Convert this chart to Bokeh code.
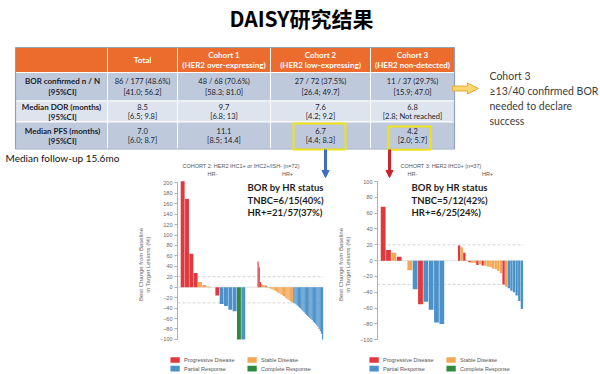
from bokeh.plotting import figure
from bokeh.models import Range1d, FixedTicker, ColumnDataSource, Arrow, NormalHead
from bokeh.layouts import column, row
from bokeh.core.properties import value
from bokeh.embed import file_html
from bokeh.resources import INLINE

# ---------------- data ----------------
slide_title = "DAISY研究结果"
table_header = ["", "Total", "Cohort 1\n(HER2 over-expressing)",
                "Cohort 2\n(HER2 low-expressing)", "Cohort 3\n(HER2 non-detected)"]
row_labels = ["BOR confirmed n / N\n[95%CI]", "Median DOR  (months)\n[95%CI]",
              "Median PFS (months)\n[95%CI]"]
bor_cells = ["86 / 177 (48.6%)\n[41.0; 56.2]", "48 / 68 (70.6%)\n[58.3; 81.0]",
             "27 / 72 (37.5%)\n[26.4; 49.7]", "11 / 37 (29.7%)\n[15.9; 47.0]"]
dor_cells = ["8.5\n[6.5; 9.8]", "9.7\n[6.8; 13]", "7.6\n[4.2; 9.2]", "6.8\n[2.8; Not reached]"]
pfs_cells = ["7.0\n[6.0; 8.7]", "11.1\n[8.5; 14.4]", "6.7\n[4.4; 8.3]", "4.2\n[2.0; 5.7]"]
note_text = "Cohort 3\n\u226513/40 confirmed BOR\nneeded to declare\nsuccess"
followup_text = "Median follow-up 15.6mo"

c2_title = "COHORT 2: HER2 IHC1+ or IHC2+/ISH- (n=72)"
c3_title = "COHORT 3: HER2 IHC0+ (n=37)"
group_labels = ["HR-", "HR+"]

c2_neg_change = [203, 169, 64, 27, 10, 4, 1.5, 0, -16, -32, -36, -43, -46, -100, -100]
c2_neg_resp = ["PD", "PD", "PD", "PD", "SD", "SD", "SD", "SD", "PD",
               "PR", "PR", "PR", "PR", "CR", "PR"]
c2_pos_change = [49, 38, 10, 6, 5, 4, 3, 3,
                 -0.5, -1, -2, -3, -4, -5, -6, -7, -8, -10, -11, -12, -14, -15, -17, -18,
                 -20, -22, -24, -25, -27, -29, -30,
                 -30, -31, -33, -35, -37, -39, -41, -43, -46, -48, -51, -53, -55, -57, -59,
                 -61, -63, -66, -68, -70, -73, -76, -80, -84, -89, -100]
c2_pos_resp = (["PD", "PD", "PD", "SD", "SD", "SD", "SD", "PD"] + ["SD"] * 23 + ["PR"] * 26)

c3_neg_change = [68, 13.5, 10, 5, 0, -12, -36, -55, -52, -62, -78, -80]
c3_neg_resp = ["PD", "PD", "SD", "PD", "SD", "SD", "PR", "PD", "PR", "PR", "PR", "PR"]
c3_pos_change = [19, 17, 10, -0.5, -2, -2.5, -3, -5.5, -4.5, -6, -6.5, -7.5, -8, -10, -11,
                 -13, -16, -30, -33, -35, -38, -40, -44, -51, -61]
c3_pos_resp = ["PD", "SD", "PD", "SD", "PD", "SD", "SD", "PD", "SD", "PD",
               "SD", "SD", "SD", "SD", "SD", "SD", "SD", "PD", "SD",
               "PR", "PR", "PR", "PR", "PR", "PR"]

c2_bor_text = ["BOR by HR status", "TNBC=6/15(40%)", "HR+=21/57(37%)"]
c3_bor_text = ["BOR by HR status", "TNBC=5/12(42%)", "HR+=6/25(24%)"]
c2_yticks = [-100, -80, -60, -40, -20, 0, 20, 40, 60, 80, 100, 120, 140, 160, 180, 200]
c3_yticks = [-100, -80, -60, -40, -20, 0, 20, 40, 60, 80, 100]
ref_lines = [20, -30]
y_label = "Best Change from Baseline\nin Target Lesions (%)"

legend_codes = ["PD", "SD", "PR", "CR"]
legend_labels = ["Progressive Disease", "Stable Disease", "Partial Response", "Complete Response"]
resp_colors = {"PD": "#E0383C", "SD": "#F4A753", "PR": "#4B92CB", "CR": "#2E8B3E"}

# ---------------- layout constants (pixels) ----------------
W, TOP_H, MID_H, LEG_H = 600, 178, 172, 24
MID, BOT = TOP_H, TOP_H + MID_H
LAT = value("Lato")
SMALL = value("Liberation Sans")


def base(width, height, xr, yr, **kw):
    p = figure(width=width, height=height, x_range=xr, y_range=yr, output_backend="svg",
               toolbar_location=None, min_border=0, **kw)
    p.outline_line_color = None
    p.grid.visible = False
    p.background_fill_color = "white"
    p.border_fill_color = "white"
    return p


# ---------------- top: title + table ----------------
top = base(W, TOP_H, Range1d(0, W), Range1d(TOP_H, 0),
           x_axis_location=None, y_axis_location=None)

top.text(x=[301], y=[17], text=[slide_title], text_font=value("Noto Sans CJK SC"),
         text_font_size="21px", text_font_style="bold", text_align="center",
         text_baseline="middle", text_color="#000000")

col_edges = [15, 107, 177, 270, 370, 454]
row_edges = [47, 72, 100.5, 121.5, 148.5]
row_fills = ["#EC6C2E", "#BECADC", "#DDE4EE", "#BECADC"]
ql, qr, qt, qb, qc = [], [], [], [], []
for r in range(4):
    for c in range(5):
        ql.append(col_edges[c]); qr.append(col_edges[c + 1])
        qt.append(row_edges[r]); qb.append(row_edges[r + 1]); qc.append(row_fills[r])
top.quad(left=ql, right=qr, top=qt, bottom=qb, fill_color=qc, line_color="white", line_width=1)
top.quad(left=[col_edges[0]], right=[col_edges[-1]], top=[row_edges[0]], bottom=[row_edges[-1]],
         fill_color=None, line_color="#8FA3BF", line_width=1.2)

ccx = [(col_edges[i] + col_edges[i + 1]) / 2 for i in range(5)]
rcy = [(row_edges[i] + row_edges[i + 1]) / 2 for i in range(4)]
half = [5.0, 5.5, 5.0, 5.0]


def cell_text(xs, yc, h, cells, size, style, color):
    tx, ty, tt = [], [], []
    for x, s in zip(xs, cells):
        a, b = s.split("\n")
        tx += [x, x]; ty += [yc - h, yc + h]; tt += [a, b]
    top.text(x=tx, y=ty, text=tt, text_font=LAT, text_font_size=size, text_font_style=style,
             text_color=color, text_align="center", text_baseline="middle")


tx_h = [ccx[1]]; tt_h = [table_header[1]]
top.text(x=tx_h, y=[rcy[0]], text=tt_h, text_font=LAT, text_font_size="8px",
         text_font_style="bold", text_color="white", text_align="center", text_baseline="middle")
cell_text(ccx[2:], rcy[0], half[0], table_header[2:], "8px", "bold", "white")
for i in range(3):
    cell_text([ccx[0] + 1], rcy[i + 1], half[i + 1], [row_labels[i]], "8px", "bold", "#1B1B2B")
for i, cells in enumerate([bor_cells, dor_cells, pfs_cells]):
    cell_text(ccx[1:], rcy[i + 1], half[i + 1], cells, "7.5px", "normal", "#1B1B2B")

# yellow highlight boxes
top.quad(left=[293, 388], right=[345, 430], top=[123, 126], bottom=[149, 149.3],
         fill_color=None, line_color="#EEE21A", line_width=2)
# block arrow
top.patch(x=[452, 467, 467, 478, 467, 467, 452], y=[85.5, 85.5, 82.5, 88, 93.5, 90.5, 90.5],
          fill_color="#FBD66E", line_color="#E3A940", line_width=1)
top.text(x=[489], y=[69], text=[note_text], text_font=LAT, text_font_size="10.5px",
         text_color="#3C3C3C", text_align="left", text_baseline="top", text_line_height=1.25)
top.text(x=[5], y=[157.5], text=[followup_text], text_font=LAT, text_font_size="10px",
         text_color="#111111", text_align="left", text_baseline="middle")

# chart titles and group labels
top.text(x=[182, 400], y=[165, 165], text=[c2_title, c3_title], text_font=SMALL,
         text_font_size="5.5px", text_color="#555555", text_align="left", text_baseline="middle")
top.text(x=[212, 287, 412, 487], y=[173] * 4, text=group_labels + group_labels, text_font=SMALL,
         text_font_size="5.5px", text_color="#555555", text_align="center", text_baseline="middle")

for xa, col in [(325, "#3D6FC0"), (389, "#C8262C")]:
    top.add_layout(Arrow(end=NormalHead(size=7, fill_color=col, line_color=col, line_width=1),
                         x_start=xa, y_start=149, x_end=xa, y_end=177,
                         line_color=col, line_width=3))


# ---------------- waterfalls ----------------
def waterfall(x_origin, width, border_left, zero_px, ppu, groups, yticks, bor_lines, bor_x):
    frame_left = x_origin + border_left
    frame_w = width - border_left
    yr = Range1d((zero_px - BOT) / ppu, (zero_px - MID) / ppu)
    p = base(width, MID_H, Range1d(frame_left, frame_left + frame_w), yr,
             x_axis_location=None, y_axis_location="left")
    p.min_border_left = border_left
    p.extra_y_ranges = {"py": Range1d(BOT, MID)}
    names = []
    extra = {}
    for gi, g in enumerate(groups):
        start = -0.5 - (g["left"] - frame_left) / g["step"]
        name = "g%d" % gi
        extra[name] = Range1d(start, start + frame_w / g["step"])
        names.append(name)
    p.extra_x_ranges = extra
    last = groups[-1]
    lname = names[-1]
    x0 = extra[lname].start
    x1 = len(last["change"]) - 0.5
    p.segment(x0=[x0], x1=[x1], y0=[0], y1=[0], line_color="#D8D8D8", line_width=0.8,
              x_range_name=lname)
    p.segment(x0=[x0] * len(ref_lines), x1=[x1] * len(ref_lines), y0=ref_lines, y1=ref_lines,
              line_color="#C9C9C9", line_width=0.8, line_dash="3 2", x_range_name=lname)
    for g, name in zip(groups, names):
        src = ColumnDataSource(dict(x=list(range(len(g["change"]))), top=g["change"],
                                    color=[resp_colors[r] for r in g["resp"]]))
        p.vbar(x="x", top="top", bottom=0, width=g["bw"], fill_color="color",
               line_color=None, source=src, x_range_name=name)
    p.text(x=[bor_x] * 3, y=[187.3, 199.5, 211.5], text=bor_lines, text_font=LAT,
           text_font_size="9.5px", text_font_style="bold", text_color="#1E1E1E",
           text_align="left", text_baseline="middle", y_range_name="py")
    ax = p.yaxis[0]
    ax.ticker = FixedTicker(ticks=yticks)
    ax.bounds = (yticks[0], yticks[-1])
    ax.axis_line_color = "#B0B0B0"
    ax.major_tick_line_color = "#B0B0B0"
    ax.major_tick_out = 3
    ax.major_tick_in = 0
    ax.minor_tick_line_color = None
    ax.major_label_text_font = "Liberation Sans"
    ax.major_label_text_font_size = "5.5px"
    ax.major_label_text_color = "#666666"
    ax.major_label_standoff = 2
    ax.axis_label = y_label
    ax.axis_label_text_font = "Liberation Sans"
    ax.axis_label_text_font_size = "6px"
    ax.axis_label_text_font_style = "normal"
    ax.axis_label_text_color = "#666666"
    ax.axis_label_standoff = 6
    return p


left = waterfall(0, 333, 177, 286.7, 0.522,
                 [dict(change=c2_neg_change, resp=c2_neg_resp, left=180, step=4.33, bw=0.9),
                  dict(change=c2_pos_change, resp=c2_pos_resp, left=257, step=1.152, bw=1.0)],
                 c2_yticks, c2_bor_text, 247)
right = waterfall(333, 267, 44, 260.15, 0.7915,
                  [dict(change=c3_neg_change, resp=c3_neg_resp, left=380, step=5.33, bw=0.9),
                   dict(change=c3_pos_change, resp=c3_pos_resp, left=457.3, step=2.616, bw=0.9)],
                  c3_yticks, c3_bor_text, 411)

# ---------------- legend strip ----------------
leg = base(W, LEG_H, Range1d(0, W), Range1d(BOT + LEG_H, BOT),
           x_axis_location=None, y_axis_location=None)
lx, ly, tx, cols = [], [], [], []
for origin in [170, 369]:
    for i, code in enumerate(legend_codes):
        c, r = i % 2, i // 2
        lx.append(origin + c * 77 + 4.6)
        tx.append(origin + c * 77 + 13.5)
        ly.append(359.5 + r * 8.6)
        cols.append(resp_colors[code])
leg.rect(x=lx, y=ly, width=9.3, height=5.6, fill_color=cols, line_color=None)
leg.text(x=tx, y=ly, text=legend_labels * 2, text_font=SMALL, text_font_size="5.5px",
         text_color="#555555", text_align="left", text_baseline="middle")

layout = column(top, row(left, right), leg)
open("out.html", "w").write(file_html(layout, INLINE))
